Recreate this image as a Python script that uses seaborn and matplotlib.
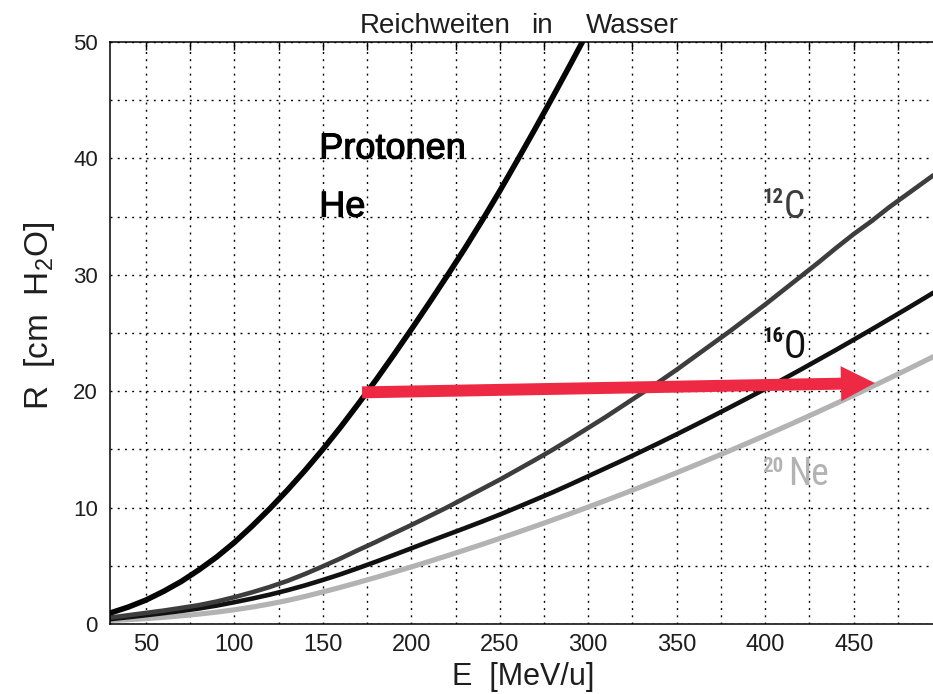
import matplotlib
matplotlib.use("Agg")
import matplotlib.pyplot as plt
import matplotlib.patheffects as pe
from matplotlib import font_manager as fm
from matplotlib.patches import FancyArrowPatch
from matplotlib.ticker import MultipleLocator, FuncFormatter
import pandas as pd
import seaborn as sns

# Range in water, R [cm H2O], versus specific energy E [MeV/u]
energy_p = [30, 40, 50, 60, 70, 80, 90, 100, 110, 120, 130, 140, 150, 160,
            170, 180, 190, 200, 210, 220, 230, 240, 250, 260, 270, 280, 290,
            300, 310]
range_p = [0.95, 1.45, 2.05, 2.8, 3.65, 4.65, 5.75, 7.0, 8.4, 9.9, 11.5,
           13.2, 15.0, 16.9, 18.9, 20.95, 23.1, 25.3, 27.55, 29.85, 32.2,
           34.65, 37.2, 39.85, 42.55, 45.3, 48.1, 50.95, 53.85]

energy_ion = [30, 40, 50, 60, 70, 80, 90, 100, 110, 120, 130, 140, 150, 160,
              170, 180, 190, 200, 210, 220, 230, 240, 250, 260, 270, 280,
              290, 300, 310, 320, 330, 340, 350, 360, 370, 380, 390, 400,
              410, 420, 430, 440, 450, 460, 470, 480, 490, 495]
range_c = [0.55, 0.75, 0.95, 1.15, 1.38, 1.62, 1.93, 2.3, 2.72, 3.18, 3.7,
           4.3, 4.95, 5.63, 6.35, 7.05, 7.78, 8.5, 9.25, 10.0, 10.8, 11.6,
           12.4, 13.25, 14.1, 14.98, 15.9, 16.85, 17.8, 18.8, 19.8, 20.8,
           21.85, 22.95, 24.05, 25.15, 26.3, 27.45, 28.65, 29.85, 31.05,
           32.3, 33.5, 34.6, 35.8, 36.9, 38.0, 38.55]
range_o = [0.42, 0.58, 0.75, 0.93, 1.12, 1.33, 1.58, 1.87, 2.18, 2.52, 2.9,
           3.32, 3.78, 4.27, 4.8, 5.35, 5.92, 6.5, 7.08, 7.65, 8.22, 8.8,
           9.4, 10.03, 10.67, 11.32, 12.0, 12.7, 13.4, 14.1, 14.82, 15.55,
           16.3, 17.06, 17.83, 18.61, 19.4, 20.2, 21.02, 21.85, 22.7, 23.55,
           24.42, 25.3, 26.19, 27.09, 28.0, 28.46]
range_ne = [0.3, 0.37, 0.46, 0.57, 0.7, 0.85, 1.02, 1.22, 1.45, 1.72, 2.02,
            2.37, 2.75, 3.15, 3.57, 4.0, 4.45, 4.9, 5.37, 5.85, 6.34, 6.84,
            7.35, 7.87, 8.4, 8.94, 9.49, 10.05, 10.62, 11.2, 11.79, 12.39,
            13.0, 13.62, 14.25, 14.89, 15.54, 16.2, 16.87, 17.55, 18.24,
            18.94, 19.65, 20.37, 21.1, 21.84, 22.59, 22.97]

# 20 cm range: proton energy -> neon energy
arrow_start = (172.2, 19.9)
arrow_end = (462.0, 20.7)

x_label_step = 50
y_label_step = 10

sns.set_style("white")
faces = fm.fontManager.ttflist
names = {f.name for f in faces}
BASE = "Liberation Sans" if "Liberation Sans" in names else "DejaVu Sans"
NARROW_KW = {"family": [BASE, "DejaVu Sans"]}
for cand in ("Liberation Sans Narrow", "Roboto Condensed", "Arial Narrow"):
    if cand in names:
        NARROW_KW = {"family": [cand, "DejaVu Sans"]}
        break
else:
    if any(f.name == "DejaVu Sans" and f.stretch == "condensed" for f in faces):
        NARROW_KW = {"family": ["DejaVu Sans"], "fontstretch": "condensed"}
    elif "Roboto" in names:
        NARROW_KW = {"family": ["Roboto", "DejaVu Sans"]}

plt.rcParams["font.family"] = [BASE, "DejaVu Sans"]
plt.rcParams["mathtext.fontset"] = "custom"
plt.rcParams["mathtext.rm"] = BASE

W, H = 933, 694
fig = plt.figure(figsize=(W / 100, H / 100), dpi=100)
left_px, right_px, top_px, bottom_px = 110.4, 933, 42, 624
ax = fig.add_axes([left_px / W, 1 - bottom_px / H,
                   (right_px - left_px) / W, (bottom_px - top_px) / H])

frames = [
    pd.DataFrame({"E": energy_ion, "R": range_ne, "ion": "Ne"}),
    pd.DataFrame({"E": energy_ion, "R": range_o, "ion": "O"}),
    pd.DataFrame({"E": energy_ion, "R": range_c, "ion": "C"}),
    pd.DataFrame({"E": energy_p, "R": range_p, "ion": "p"}),
]
styles = {"Ne": ("#b3b3b3", 3.7), "O": ("#111111", 3.3),
          "C": ("#3d3d3d", 3.3), "p": ("#050505", 4.0)}
for df in frames:
    ion = df["ion"].iloc[0]
    col, lw = styles[ion]
    sns.lineplot(data=df, x="E", y="R", color=col, linewidth=lw,
                 estimator=None, sort=False, ax=ax, legend=False)
for ln in ax.lines:
    ln.set_solid_joinstyle("round")

ax.set_xlim(30, 494.8)
ax.set_ylim(0, 50)
ax.xaxis.set_major_locator(MultipleLocator(25))
ax.yaxis.set_major_locator(MultipleLocator(5))
ax.xaxis.set_major_formatter(FuncFormatter(
    lambda v, p: f"{v:.0f}" if abs(v % x_label_step) < 1e-6 else ""))
ax.yaxis.set_major_formatter(FuncFormatter(
    lambda v, p: f"{v:.0f}" if abs(v % y_label_step) < 1e-6 else ""))
ax.tick_params(axis="both", direction="in", length=5.8, width=1.0,
               color="black", top=True, right=False, labelcolor="#1e1e1e")
ax.tick_params(axis="x", labelsize=17, pad=7.5)
ax.tick_params(axis="y", labelsize=16, pad=9)
ax.grid(True, color="black", linestyle=(0, (1.4, 3.8)), linewidth=1.0)
for side in ("left", "top", "bottom"):
    ax.spines[side].set_visible(True)
    ax.spines[side].set_color("black")
    ax.spines[side].set_linewidth(1.1)
ax.spines["right"].set_visible(False)
ax.set_xlabel("")
ax.set_ylabel("")

# title, set word by word with the wide spacing of the plotting font
for word, x_left in (("Reichweiten", 360), ("in", 531), ("Wasser", 586)):
    fig.text(x_left / W, 1 - 33 / H, word, ha="left", va="baseline",
             fontsize=20, color="#1e1e1e")
fig.text(523 / W, 1 - 685 / H, "E  [MeV/u]", ha="center", va="baseline",
         fontsize=22, color="#1e1e1e")
fig.text(40 / W, 1 - 316 / H, r"R  [cm  H$_\mathregular{2}$O]", ha="center",
         va="center", rotation=90, fontsize=24, color="#1e1e1e")

stroke = [pe.withStroke(linewidth=0.8, foreground="black")]
ax.text(148, 40.0, "Protonen", fontsize=26, color="black", ha="left",
        va="baseline", path_effects=stroke)
ax.text(148, 35.0, "He", fontsize=26, color="black", ha="left",
        va="baseline", path_effects=stroke)

ion_labels = [("12", "C", 36.2, 34.85, 410.5, "#3d3d3d"),
              ("16", "O", 24.25, 22.83, 410.5, "#111111"),
              ("20", "Ne", 13.1, 11.94, 413.0, "#b3b3b3")]
for mass, sym, y_sup, y_sym, x_sym, col in ion_labels:
    ax.text(398.5, y_sup, mass, fontsize=15, fontweight="bold", color=col,
            ha="left", va="baseline", **NARROW_KW)
    ax.text(x_sym, y_sym, sym, fontsize=27, color=col, ha="left",
            va="baseline", **NARROW_KW)

arrow = FancyArrowPatch(arrow_start, arrow_end,
                        arrowstyle="simple,head_length=24.5,head_width=25.2,tail_width=8.6",
                        mutation_scale=1, color="#ee2944", linewidth=0,
                        shrinkA=0, shrinkB=0, zorder=5)
ax.add_patch(arrow)

fig.savefig("out.png", dpi=100)
